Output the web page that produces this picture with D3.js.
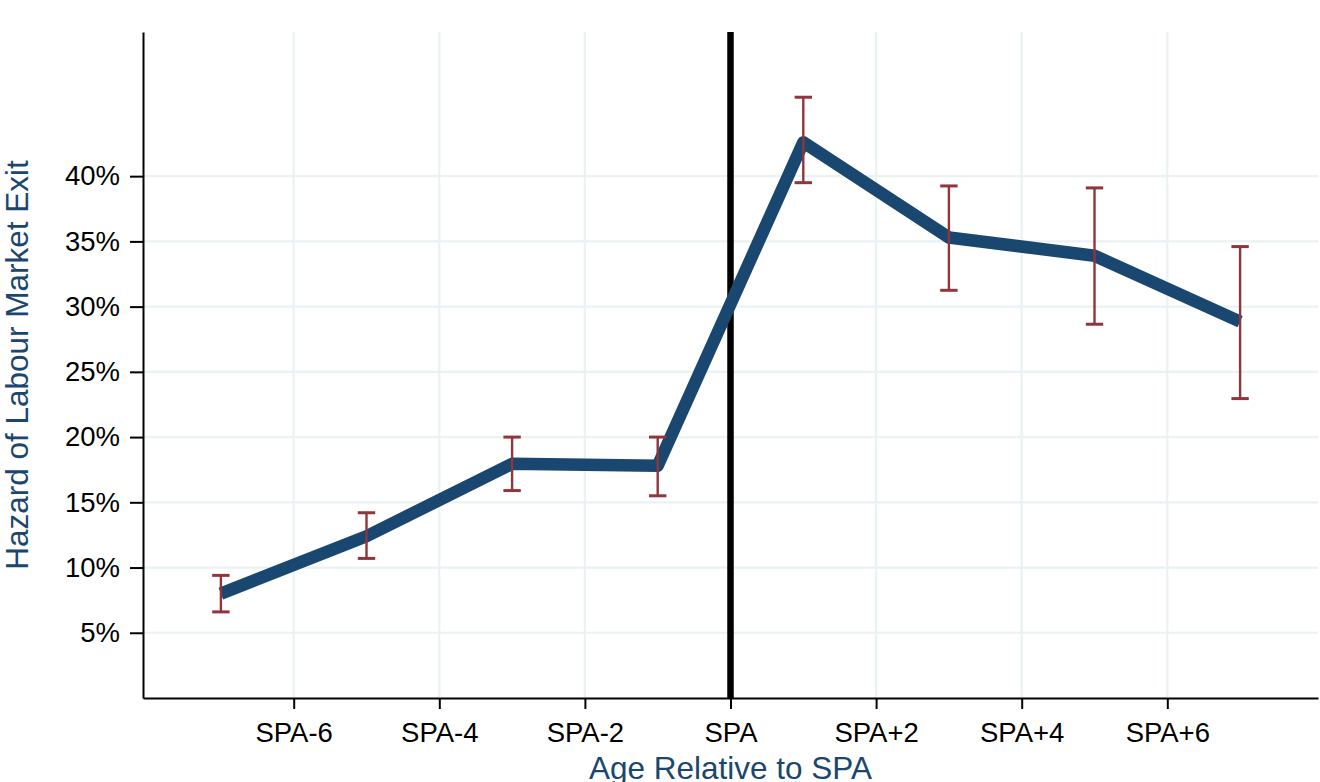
<!DOCTYPE html>
<html>
<head>
<meta charset="utf-8">
<script src="https://cdn.jsdelivr.net/npm/d3@7"></script>
<style>
  body { margin: 0; background: #fff; }
  text { font-family: "Liberation Sans", Arial, sans-serif; }
</style>
</head>
<body>
<div id="chart"></div>
<script>
// Age relative to state pension age (SPA) and hazard of labour market exit, %
const ages = [-7, -5, -3, -1, 1, 3, 5, 7];
const hazard = [8.0, 12.4, 17.95, 17.8, 42.6, 35.3, 33.9, 28.85];
const ciLow = [6.6, 10.7, 15.9, 15.5, 39.5, 31.25, 28.65, 22.95];
const ciHigh = [9.4, 14.2, 20.0, 20.0, 46.05, 39.25, 39.1, 34.6];

const xTicks = [-6, -4, -2, 0, 2, 4, 6];
const xTickLabels = ["SPA-6", "SPA-4", "SPA-2", "SPA", "SPA+2", "SPA+4", "SPA+6"];
const yTicks = [5, 10, 15, 20, 25, 30, 35, 40];

const width = 1320, height = 782;
const margin = {top: 32, right: 2, bottom: 84, left: 143};

const navy = "#1a476f", maroon = "#90353b", grid = "#eaf2f3";

const x = d3.scaleLinear()
  .domain([-8.07, 8.07])
  .range([margin.left, width - margin.right]);

const y = d3.scaleLinear()
  .domain([0, 51.05])
  .range([height - margin.bottom, margin.top]);

const svg = d3.select("#chart").append("svg")
  .attr("width", width)
  .attr("height", height)
  .attr("viewBox", [0, 0, width, height]);

// gridlines
svg.append("g")
  .selectAll("line")
  .data(yTicks)
  .join("line")
  .attr("x1", margin.left).attr("x2", width - margin.right)
  .attr("y1", d => y(d)).attr("y2", d => y(d))
  .attr("stroke", grid).attr("stroke-width", 2.2);

svg.append("g")
  .selectAll("line")
  .data(xTicks)
  .join("line")
  .attr("x1", d => x(d)).attr("x2", d => x(d))
  .attr("y1", margin.top).attr("y2", height - margin.bottom)
  .attr("stroke", grid).attr("stroke-width", 2.2);

// axes
const xAxis = svg.append("g")
  .attr("transform", `translate(0,${height - margin.bottom})`)
  .call(d3.axisBottom(x)
    .tickValues(xTicks)
    .tickFormat((d, i) => xTickLabels[i])
    .tickSize(11)
    .tickPadding(13)
    .tickSizeOuter(0));

const yAxis = svg.append("g")
  .attr("transform", `translate(${margin.left},0)`)
  .call(d3.axisLeft(y)
    .tickValues(yTicks)
    .tickFormat(d => d + "%")
    .tickSize(13)
    .tickPadding(10)
    .tickSizeOuter(0));

[xAxis, yAxis].forEach(g => {
  g.select(".domain").attr("stroke", "#000").attr("stroke-width", 2);
  g.selectAll(".tick line").attr("stroke", "#000").attr("stroke-width", 2);
  g.selectAll(".tick text")
    .attr("fill", "#000")
    .style("font-size", "27.5px")
    .style("font-family", "'Liberation Sans', Arial, sans-serif");
});
xAxis.selectAll(".tick text").attr("dy", "0.71em");

// SPA reference line
svg.append("line")
  .attr("x1", x(0)).attr("x2", x(0))
  .attr("y1", margin.top).attr("y2", height - margin.bottom)
  .attr("stroke", "#000").attr("stroke-width", 6.5);

// hazard line
const line = d3.line()
  .x((d, i) => x(ages[i]))
  .y(d => y(d));

svg.append("path")
  .datum(hazard)
  .attr("fill", "none")
  .attr("stroke", navy)
  .attr("stroke-width", 12.5)
  .attr("stroke-linejoin", "round")
  .attr("stroke-linecap", "butt")
  .attr("d", line);

// confidence intervals
const ci = svg.append("g")
  .attr("stroke", maroon)
  .attr("stroke-width", 2.4)
  .attr("fill", "none");

ages.forEach((a, i) => {
  const cx = x(a);
  ci.append("line")
    .attr("x1", cx).attr("x2", cx)
    .attr("y1", y(ciLow[i])).attr("y2", y(ciHigh[i]));
  [ciLow[i], ciHigh[i]].forEach(v => {
    ci.append("line")
      .attr("x1", cx - 8.7).attr("x2", cx + 8.7)
      .attr("y1", y(v)).attr("y2", y(v))
      .attr("stroke-width", 3);
  });
});

// axis titles
svg.append("text")
  .attr("x", (margin.left + width - margin.right) / 2)
  .attr("y", 779)
  .attr("text-anchor", "middle")
  .attr("fill", navy)
  .style("font-size", "31.5px")
  .text("Age Relative to SPA");

svg.append("text")
  .attr("transform", `translate(28,${(margin.top + height - margin.bottom) / 2}) rotate(-90)`)
  .attr("text-anchor", "middle")
  .attr("fill", navy)
  .style("font-size", "31.5px")
  .text("Hazard of Labour Market Exit");
</script>
</body>
</html>
